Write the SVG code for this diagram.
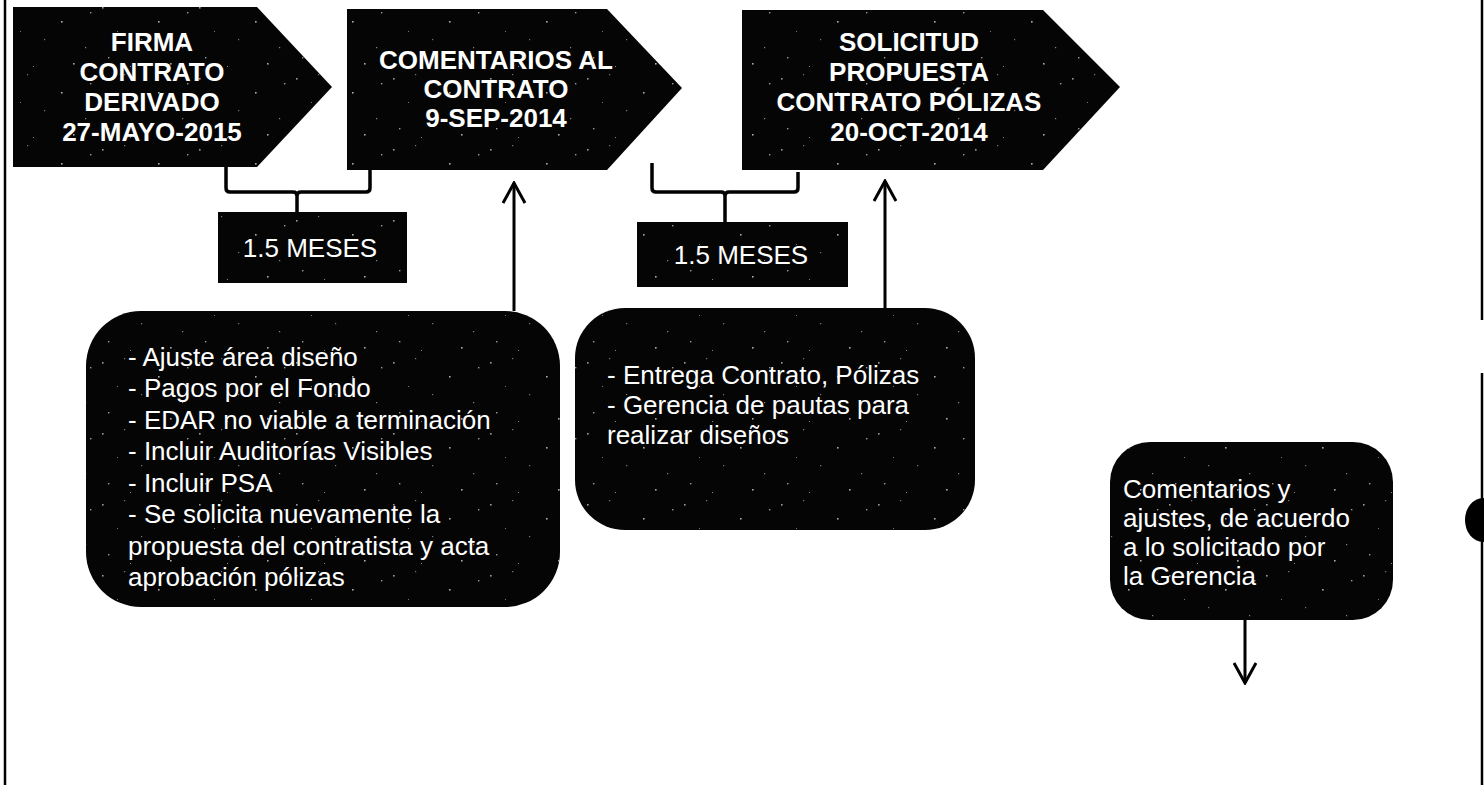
<svg xmlns="http://www.w3.org/2000/svg" width="1484" height="785" viewBox="0 0 1484 785">
<style>
.shape{fill:#050505;}
.speck{fill:url(#speck);}
.title{font-family:"Liberation Sans",Arial,sans-serif;font-weight:bold;font-size:26px;fill:#ffffff;text-anchor:middle;}
.body{font-family:"Liberation Sans",Arial,sans-serif;font-size:26px;fill:#ffffff;}
.mid{text-anchor:middle;}
.conn{fill:none;stroke:#000;stroke-width:3.5;stroke-linejoin:round;}
.arrow{fill:none;stroke:#000;stroke-width:3;}
.border{stroke:#000;stroke-width:2.5;fill:none;}
</style>
<defs>
<pattern id="speck" width="97" height="71" patternUnits="userSpaceOnUse">
<rect x="5" y="7" width="1.6" height="1.6" fill="#9a9a9a"/>
<rect x="27" y="3" width="1.2" height="1.2" fill="#777"/>
<rect x="61" y="21" width="1.6" height="1.6" fill="#aaa"/>
<rect x="85" y="47" width="1.2" height="1.2" fill="#888"/>
<rect x="11" y="57" width="1.4" height="1.4" fill="#999"/>
<rect x="44" y="39" width="1.2" height="1.2" fill="#777"/>
<rect x="73" y="63" width="1.6" height="1.6" fill="#aaa"/>
<rect x="33" y="66" width="1" height="1" fill="#888"/>
<rect x="90" y="12" width="1.4" height="1.4" fill="#999"/>
<rect x="20" y="31" width="1" height="1" fill="#777"/>
</pattern>
<marker id="head" viewBox="0 0 24 24" refX="22" refY="12" markerWidth="24" markerHeight="24" markerUnits="userSpaceOnUse" orient="auto">
<path d="M2,1 L22,12 L2,23" fill="none" stroke="#000" stroke-width="3"/>
</marker>
</defs>
<rect width="1484" height="785" fill="#ffffff"/>

<g id="frame">
<line class="border" x1="5" y1="0" x2="5" y2="785"/>
<line class="border" x1="1482" y1="0" x2="1482" y2="320"/>
<line class="border" x1="1482" y1="373" x2="1482" y2="785"/>
<ellipse cx="1483" cy="520" rx="18" ry="22" fill="#000"/>
</g>

<g id="connectors">
<path class="conn" d="M226,167 L226,188 Q226,192 230,192 L293,192 Q297,192 297,196 L297,212 M297,196 Q297,192 301,192 L366,192 Q370,192 370,188 L370,170"/>
<path class="conn" d="M652,163 L652,188 Q652,192 656,192 L721,192 Q725,192 725,196 L725,222 M725,196 Q725,192 729,192 L794,192 Q798,192 798,188 L798,172"/>
<line class="arrow" x1="514" y1="311" x2="514" y2="183" marker-end="url(#head)"/>
<line class="arrow" x1="885" y1="308" x2="885" y2="181" marker-end="url(#head)"/>
<line class="arrow" x1="1245" y1="620" x2="1245" y2="683" marker-end="url(#head)"/>
</g>

<g id="node-firma">
<path class="shape" d="M13,7 L257,7 L332,87 L257,167 L13,167 Z"/>
<path class="speck" d="M13,7 L257,7 L332,87 L257,167 L13,167 Z"/>
<text class="title" x="152" y="51">FIRMA</text>
<text class="title" x="152" y="81">CONTRATO</text>
<text class="title" x="152" y="111">DERIVADO</text>
<text class="title" x="152" y="141">27-MAYO-2015</text>
</g>

<g id="node-comentarios">
<path class="shape" d="M347,9 L607,9 L682,88 L607,170 L347,170 Z"/>
<path class="speck" d="M347,9 L607,9 L682,88 L607,170 L347,170 Z"/>
<text class="title" x="496" y="69">COMENTARIOS AL</text>
<text class="title" x="496" y="98">CONTRATO</text>
<text class="title" x="496" y="127">9-SEP-2014</text>
</g>

<g id="node-solicitud">
<path class="shape" d="M742,10 L1043,10 L1120,87 L1043,170 L742,170 Z"/>
<path class="speck" d="M742,10 L1043,10 L1120,87 L1043,170 L742,170 Z"/>
<text class="title" x="909" y="51">SOLICITUD</text>
<text class="title" x="909" y="81">PROPUESTA</text>
<text class="title" x="909" y="111">CONTRATO PÓLIZAS</text>
<text class="title" x="909" y="141">20-OCT-2014</text>
</g>

<g id="node-meses-1">
<rect class="shape" x="218" y="212" width="189" height="71"/>
<rect class="speck" x="218" y="212" width="189" height="71"/>
<text class="body mid" x="310" y="257">1.5 MESES</text>
</g>

<g id="node-meses-2">
<rect class="shape" x="637" y="222" width="211" height="65"/>
<rect class="speck" x="637" y="222" width="211" height="65"/>
<text class="body mid" x="741" y="264">1.5 MESES</text>
</g>

<g id="node-ajustes">
<rect class="shape" x="86" y="311" width="474" height="296" rx="55" ry="55"/>
<rect class="speck" x="86" y="311" width="474" height="296" rx="55" ry="55"/>
<text class="body" x="128" y="366">- Ajuste área diseño</text>
<text class="body" x="128" y="397">- Pagos por el Fondo</text>
<text class="body" x="128" y="429">- EDAR no viable a terminación</text>
<text class="body" x="128" y="460">- Incluir Auditorías Visibles</text>
<text class="body" x="128" y="492">- Incluir PSA</text>
<text class="body" x="128" y="523">- Se solicita nuevamente la</text>
<text class="body" x="128" y="555">propuesta del contratista y acta</text>
<text class="body" x="128" y="586">aprobación pólizas</text>
</g>

<g id="node-entrega">
<rect class="shape" x="575" y="308" width="400" height="222" rx="50" ry="50"/>
<rect class="speck" x="575" y="308" width="400" height="222" rx="50" ry="50"/>
<text class="body" x="607" y="384">- Entrega Contrato, Pólizas</text>
<text class="body" x="607" y="414">- Gerencia de pautas para</text>
<text class="body" x="607" y="444">realizar diseños</text>
</g>

<g id="node-comentarios-ajustes">
<rect class="shape" x="1110" y="442" width="283" height="178" rx="40" ry="40"/>
<rect class="speck" x="1110" y="442" width="283" height="178" rx="40" ry="40"/>
<text class="body" x="1123" y="498">Comentarios y</text>
<text class="body" x="1123" y="527">ajustes, de acuerdo</text>
<text class="body" x="1123" y="556">a lo solicitado por</text>
<text class="body" x="1123" y="585">la Gerencia</text>
</g>
</svg>
